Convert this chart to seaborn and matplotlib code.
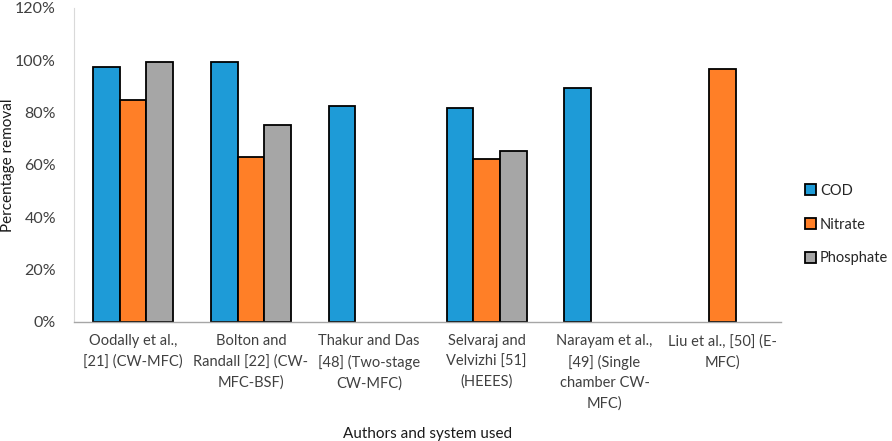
import numpy as np
import pandas as pd
import seaborn as sns
from matplotlib import pyplot as plt
from matplotlib.ticker import PercentFormatter

# data
studies = ['Oodally et al.,\n[21] (CW-MFC)',
           'Bolton and\nRandall [22] (CW-\nMFC-BSF)',
           'Thakur and Das\n[48] (Two-stage\nCW-MFC)',
           'Selvaraj and\nVelvizhi [51]\n(HEEES)',
           'Narayam et al.,\n[49] (Single\nchamber CW-\nMFC)',
           'Liu et al., [50] (E-\nMFC)']
cod = [97.4, 99.3, 82.5, 81.6, 89.5, np.nan]
nitrate = [85.0, 63.0, np.nan, 62.3, np.nan, 96.8]
phosphate = [99.3, 75.2, np.nan, 65.5, np.nan, np.nan]
parameters = ['COD', 'Nitrate', 'Phosphate']
colors = ['#1E9BD7', '#FF7F27', '#A6A6A6']

df = pd.DataFrame({'study': studies, 'COD': cod, 'Nitrate': nitrate, 'Phosphate': phosphate})
df = df.melt(id_vars='study', var_name='parameter', value_name='removal').dropna()

sns.set_style('white')
plt.rcParams['font.family'] = ['Lato', 'DejaVu Sans']

fig, ax = plt.subplots(figsize=(8.92, 4.41), dpi=100)
fig.subplots_adjust(left=0.083, right=0.876, top=0.982, bottom=0.270)

sns.barplot(data=df, x='study', y='removal', hue='parameter', order=studies,
            hue_order=parameters, palette=colors, width=0.68, saturation=1,
            edgecolor='black', linewidth=1.3, ax=ax)

ax.set_ylim(0, 120)
ax.set_yticks(np.arange(0, 121, 20))
ax.yaxis.set_major_formatter(PercentFormatter(decimals=0))
ax.tick_params(axis='x', length=0, labelsize=10.5, colors='#404040', pad=9)
ax.tick_params(axis='y', length=0, labelsize=11.5, colors='#404040', pad=13)
for lab in ax.get_xticklabels():
    lab.set_linespacing(1.55)
ax.set_ylabel('Percentage removal', fontsize=11, color='#1a1a1a')
ax.yaxis.set_label_coords(-0.083, 0.5)
ax.set_xlabel('Authors and system used', fontsize=11, color='#1a1a1a', labelpad=12)

for s in ['top', 'right']:
    ax.spines[s].set_visible(False)
ax.spines['left'].set_color('#d9d9d9')
ax.spines['left'].set_linewidth(0.8)
ax.spines['bottom'].set_color('#a6a6a6')
ax.spines['bottom'].set_linewidth(1.0)

leg = ax.legend(loc='center left', bbox_to_anchor=(1.033, 0.31), frameon=False,
                fontsize=10.5, handlelength=0.8, handleheight=0.8, borderaxespad=0,
                borderpad=0, handletextpad=0.25, labelspacing=1.35)

fig.savefig('out.png', dpi=100)
